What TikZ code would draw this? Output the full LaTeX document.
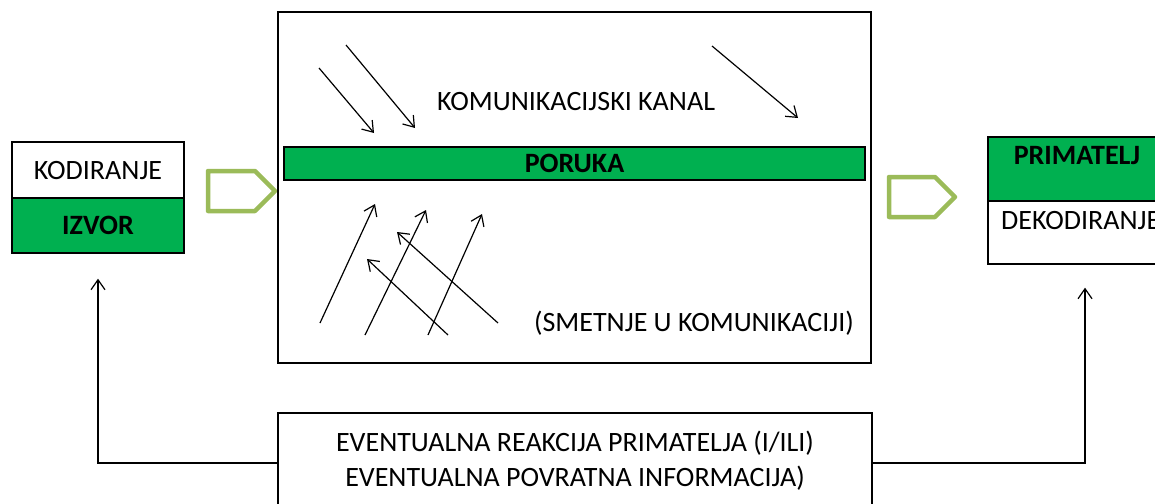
\documentclass[tikz,border=0pt]{standalone}
\usepackage{fontspec}
\setmainfont{Carlito}
\usetikzlibrary{arrows.meta}
\definecolor{exgreen}{HTML}{00B050}
\definecolor{olgreen}{HTML}{9BBB59}
\begin{document}
\begin{tikzpicture}[x=1pt,y=-1pt,
  bx/.style={draw=black,line width=1.4pt,inner sep=0pt,text height=18pt,text depth=0pt,font=\fontsize{28}{34}\selectfont},
  gf/.style={bx,fill=exgreen,font=\fontsize{28}{34}\selectfont\bfseries},
  tx/.style={font=\fontsize{28}{34}\selectfont,inner sep=0pt,text height=18pt,text depth=0pt},
  btx/.style={tx,font=\fontsize{28}{34}\selectfont\bfseries},
  arr/.style={line width=1.2pt,-{Straight Barb[length=10pt,width=14pt]}},
  pent/.style={draw=olgreen,line width=4.5pt,line join=round,fill=white}]
\useasboundingbox (0,0) rectangle (1155,503);
\clip (0,0) rectangle (1155,503);
% left box
\node[bx,minimum width=172pt,minimum height=56pt] (kod) at (98,170) {KODIRANJE};
\node[gf,minimum width=172pt,minimum height=55pt] (izv) at (98,225.5) {IZVOR};
% left pentagon
\draw[pent] (208,171) -- (255,171) -- (275,191) -- (255,211) -- (208,211) -- cycle;
% channel box
\node[bx,minimum width=593pt,minimum height=351pt] (kanal) at (574.5,187.5) {};
\node[gf,minimum width=581pt,minimum height=33pt] (poruka) at (574.5,163.5) {PORUKA};
\node[tx] (kklabel) at (576,101) {KOMUNIKACIJSKI KANAL};
\node[tx] (smlabel) at (694,322) {(SMETNJE U KOMUNIKACIJI)};
% noise arrows
\coordinate (a1s) at (319,68);  \coordinate (a1e) at (374,133);
\coordinate (a2s) at (346,45);  \coordinate (a2e) at (415,128);
\coordinate (a3s) at (712,46);  \coordinate (a3e) at (798,118);
\coordinate (b1s) at (320,323); \coordinate (b1e) at (375,204);
\coordinate (b2s) at (365,335); \coordinate (b2e) at (426,210);
\coordinate (b3s) at (428,335); \coordinate (b3e) at (482,214);
\coordinate (b4s) at (448,335); \coordinate (b4e) at (367,259);
\coordinate (b5s) at (498,323); \coordinate (b5e) at (397,232);
\foreach \n in {a1,a2,a3,b1,b2,b3,b4,b5} \draw[arr] (\n s) -- (\n e);
% right pentagon
\draw[pent] (889,177) -- (935,177) -- (955,197) -- (935,217) -- (889,217) -- cycle;
% right box
\node[gf,minimum width=182pt,minimum height=64pt] (prim) at (1079,169) {};
\node[btx] (primlabel) at (1077,155) {PRIMATELJ};
\node[bx,minimum width=182pt,minimum height=63pt] (dek) at (1079,232.5) {};
\node[tx,anchor=west] (deklabel) at (1001,220) {DEKODIRANJE};
% feedback box
\node[bx,minimum width=594pt,minimum height=114pt] (fb) at (575,470) {};
\node[tx,align=center] (fbl1) at (575,442) {EVENTUALNA REAKCIJA PRIMATELJA (I/ILI)};
\node[tx,align=center] (fbl2) at (575,477) {EVENTUALNA POVRATNA INFORMACIJA)};
% feedback connectors
\draw[arr,shorten >=25pt] ([yshift=7pt]fb.west) -| (izv.south);
\draw[arr,shorten >=23pt] ([yshift=7pt]fb.east) -| ([xshift=6pt]dek.south);
\end{tikzpicture}
\end{document}
